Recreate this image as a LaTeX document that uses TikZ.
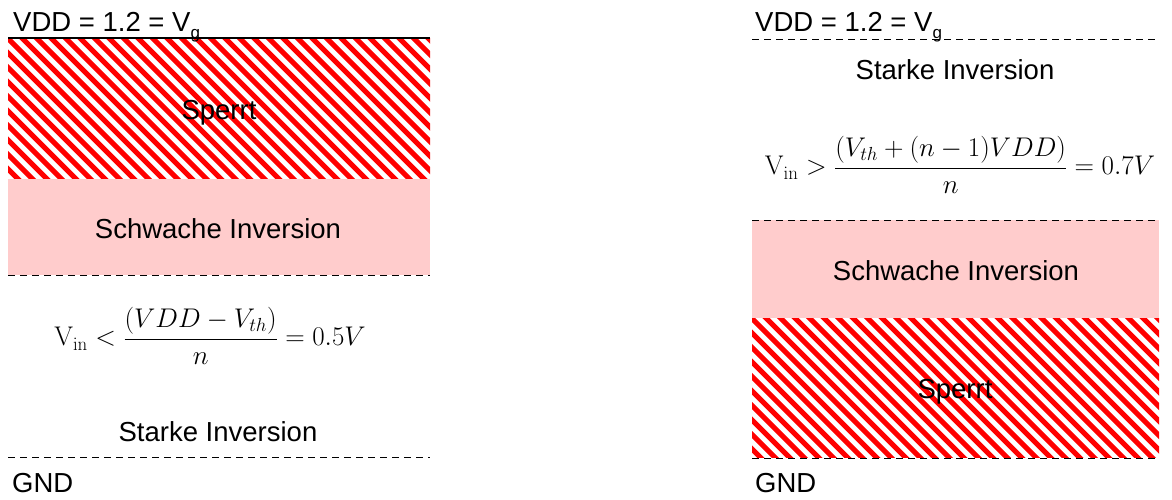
\RequirePackage{fix-cm}
\documentclass[tikz,border=0pt]{standalone}
\usepackage[no-math]{fontspec}
\setmainfont{Liberation Sans}
\usepackage{amsmath}
\definecolor{pinkfill}{HTML}{FFCCCC}
\newcommand\hatchbox[4]{%
  \begin{scope}
    \clip (#1,#2) rectangle (#3,#4);
    \fill[white] (#1,#2) rectangle (#3,#4);
    \foreach \i in {0,...,44}
      \draw[stripe] ({#1-165+\i*14.5},{#2-5}) -- ++(175,175);
  \end{scope}}
\begin{document}
\begin{tikzpicture}[x=1pt,y=-1pt,
  lbl/.style={font=\fontsize{27.5}{33}\selectfont, inner sep=0pt},
  eqn/.style={font=\fontsize{27}{33}\selectfont, inner sep=0pt},
  dline/.style={black, line width=1pt, dash pattern=on 7pt off 5pt},
  sline/.style={black, line width=1.2pt},
  stripe/.style={red, line width=5pt}]
\useasboundingbox (0,0) rectangle (1172,499);

% ---------- left panel ----------
\hatchbox{8}{38}{430}{179}
\fill[pinkfill] (8,179) rectangle (430,275);
\draw[sline] (8,38) -- (430,38);
\draw[dline] (8,275) -- (430,275);
\draw[dline] (8,457) -- (430,457);

\node[lbl, anchor=base west] (vddL) at (13,31) {VDD = 1.2 = V\raisebox{-7pt}{\fontsize{17}{17}\selectfont g}};
\node[lbl, anchor=base] (sperrtL) at (219,119) {Sperrt};
\node[lbl, anchor=base] (schwL) at (218,238) {Schwache Inversion};
\node[eqn] (eqL) at (210,336) {$\displaystyle \mathrm{V}_{\mathrm{in}} < \frac{(VDD - V_{th})}{n} = 0.5V$};
\node[lbl, anchor=base] (starkL) at (218,441) {Starke Inversion};
\node[lbl, anchor=base west] (gndL) at (12,492) {GND};

% ---------- right panel ----------
\fill[pinkfill] (752,220) rectangle (1159,318);
\hatchbox{752}{318}{1159}{457}
\draw[dline] (752,39) -- (1159,39);
\draw[dline] (752,220) -- (1159,220);
\draw[dline] (752,458) -- (1159,458);

\node[lbl, anchor=base west] (vddR) at (755,31) {VDD = 1.2 = V\raisebox{-7pt}{\fontsize{17}{17}\selectfont g}};
\node[lbl, anchor=base] (starkR) at (955,79) {Starke Inversion};
\node[eqn] (eqR) at (960,165) {$\displaystyle \mathrm{V}_{\mathrm{in}} > \frac{(V_{th} + (n-1)VDD)}{n} = 0.7V$};
\node[lbl, anchor=base] (schwR) at (956,280) {Schwache Inversion};
\node[lbl, anchor=base] (sperrtR) at (955,398) {Sperrt};
\node[lbl, anchor=base west] (gndR) at (755,492) {GND};
\end{tikzpicture}
\end{document}
